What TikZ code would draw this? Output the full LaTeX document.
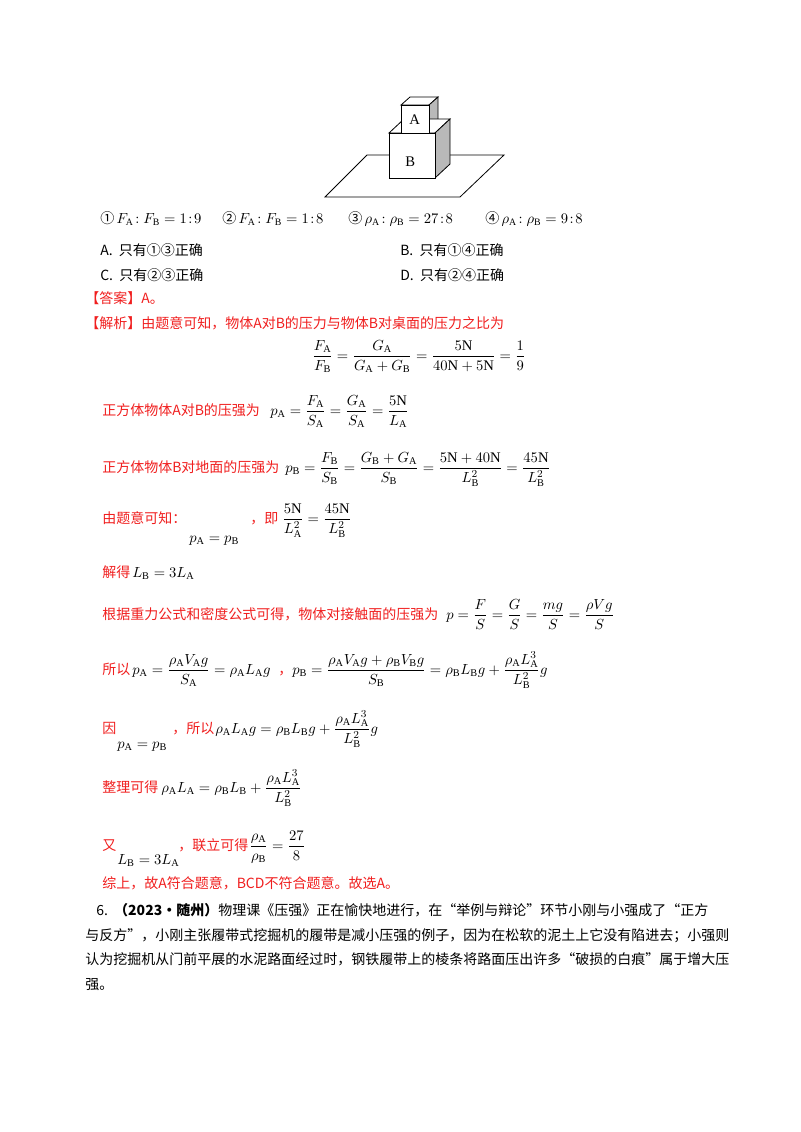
\documentclass[tikz,border=0pt]{standalone}
\usepackage{amsmath}
\usepackage{fontspec}
\setmainfont{Liberation Serif}
\newfontfamily\cjk{Noto Sans CJK SC}
\definecolor{ansred}{RGB}{240,30,30}
\newcommand{\sA}{_{\mathrm{A}}}
\newcommand{\sB}{_{\mathrm{B}}}
\begin{document}
\begin{tikzpicture}[x=0.75pt,y=-0.75pt,
  txt/.style={anchor=base west,inner sep=0pt,font=\fontsize{10.5}{12}\selectfont\cjk},
  red/.style={txt,text=ansred},
  eq/.style={anchor=base west,inner sep=0pt,font=\fontsize{11}{12}\selectfont},
  side/.style={draw,fill=gray!55,line width=0.6pt},
  face/.style={draw,fill=white,line width=0.6pt}]
\useasboundingbox (0,0) rectangle (800,1132);
% figure
\draw[face] (367,155) -- (504,155) -- (460,197) -- (325,197) -- cycle;
\draw[face] (401,105) -- (410,97) -- (438,97) -- (429,105) -- cycle;
\draw[side] (429,105) -- (438,97) -- (438,125) -- (429,133) -- cycle;
\draw[face] (389,133) -- (404,119) -- (450,119) -- (435,133) -- cycle;
\draw[face] (401,133) -- (401,105) -- (429,105) -- (429,133);
\draw[side] (435,133) -- (450,119) -- (450,164) -- (435,178) -- cycle;
\draw[face] (389,133) rectangle (435,178);
\node[eq] (la) at (409,124) {A};
\node[eq] (lb) at (405,166) {B};
% options
\node[txt] (o1) at (100,223) {①\,$F\sA\!:F\sB=1\!:\!9$};
\node[txt] (o2) at (222,223) {②\,$F\sA\!:F\sB=1\!:\!8$};
\node[txt] (o3) at (348,223) {③\,$\rho\sA\!:\rho\sB=27\!:\!8$};
\node[txt] (o4) at (485,223) {④\,$\rho\sA\!:\rho\sB=9\!:\!8$};
\node[txt] (ca) at (100,255) {A.\ \ 只有①③正确};
\node[txt] (cb) at (400,255) {B.\ \ 只有①④正确};
\node[txt] (cc) at (100,280) {C.\ \ 只有②③正确};
\node[txt] (cd) at (400,280) {D.\ \ 只有②④正确};
\node[red] (ans) at (85,303) {【答案】A。};
\node[red] (jx) at (85,328) {【解析】由题意可知，物体A对B的压力与物体B对桌面的压力之比为};
\node[eq] (e1) at (312,360) {$\dfrac{F\sA}{F\sB}=\dfrac{G\sA}{G\sA+G\sB}=\dfrac{5\mathrm{N}}{40\mathrm{N}+5\mathrm{N}}=\dfrac{1}{9}$};
\node[red] (t2) at (102,415) {正方体物体A对B的压强为};
\node[eq] (e2) at (270,415) {$p\sA=\dfrac{F\sA}{S\sA}=\dfrac{G\sA}{S\sA}=\dfrac{5\mathrm{N}}{L\sA}$};
\node[red] (t3) at (102,472) {正方体物体B对地面的压强为};
\node[eq] (e3) at (285,472) {$p\sB=\dfrac{F\sB}{S\sB}=\dfrac{G\sB+G\sA}{S\sB}=\dfrac{5\mathrm{N}+40\mathrm{N}}{L\sB^2}=\dfrac{45\mathrm{N}}{L\sB^2}$};
\node[red] (t4) at (102,523) {由题意可知：};
\node[eq] (e4a) at (189,542) {$p\sA=p\sB$};
\node[red] (t4b) at (250,523) {，即};
\node[eq] (e4) at (282,523) {$\dfrac{5\mathrm{N}}{L\sA^2}=\dfrac{45\mathrm{N}}{L\sB^2}$};
\node[red] (t5) at (102,577) {解得};
\node[eq] (e5) at (132,577) {$L\sB=3L\sA$};
\node[red] (t6) at (102,619) {根据重力公式和密度公式可得，物体对接触面的压强为};
\node[eq] (e6) at (446,619) {$p=\dfrac{F}{S}=\dfrac{G}{S}=\dfrac{mg}{S}=\dfrac{\rho Vg}{S}$};
\node[red] (t7) at (102,674) {所以};
\node[eq] (e7) at (132,674) {$p\sA=\dfrac{\rho\sA V\sA g}{S\sA}=\rho\sA L\sA g$};
\node[red] (t7b) at (278,674) {，};
\node[eq] (e7b) at (292,674) {$p\sB=\dfrac{\rho\sA V\sA g+\rho\sB V\sB g}{S\sB}=\rho\sB L\sB g+\dfrac{\rho\sA L\sA^3}{L\sB^2}g$};
\node[red] (t8) at (102,733) {因};
\node[eq] (e8a) at (117,748) {$p\sA=p\sB$};
\node[red] (t8b) at (172,733) {，所以};
\node[eq] (e8) at (215,733) {$\rho\sA L\sA g=\rho\sB L\sB g+\dfrac{\rho\sA L\sA^3}{L\sB^2}g$};
\node[red] (t9) at (102,792) {整理可得};
\node[eq] (e9) at (161,792) {$\rho\sA L\sA=\rho\sB L\sB+\dfrac{\rho\sA L\sA^3}{L\sB^2}$};
\node[red] (t10) at (102,850) {又};
\node[eq] (e10a) at (117,864) {$L\sB=3L\sA$};
\node[red] (t10b) at (178,850) {，联立可得};
\node[eq] (e10) at (249,850) {$\dfrac{\rho\sA}{\rho\sB}=\dfrac{27}{8}$};
\node[red] (t11) at (102,888) {综上，故A符合题意，BCD不符合题意。故选A。};
\node[txt] (q1) at (96,915) {6.\ \ \textbf{（2023·随州）}物理课《压强》正在愉快地进行，在“举例与辩论”环节小刚与小强成了“正方};
\node[txt] (q2) at (85,940) {与反方”，小刚主张履带式挖掘机的履带是减小压强的例子，因为在松软的泥土上它没有陷进去；小强则};
\node[txt] (q3) at (85,964) {认为挖掘机从门前平展的水泥路面经过时，钢铁履带上的棱条将路面压出许多“破损的白痕”属于增大压};
\node[txt] (q4) at (85,989) {强。};
\end{tikzpicture}
\end{document}
